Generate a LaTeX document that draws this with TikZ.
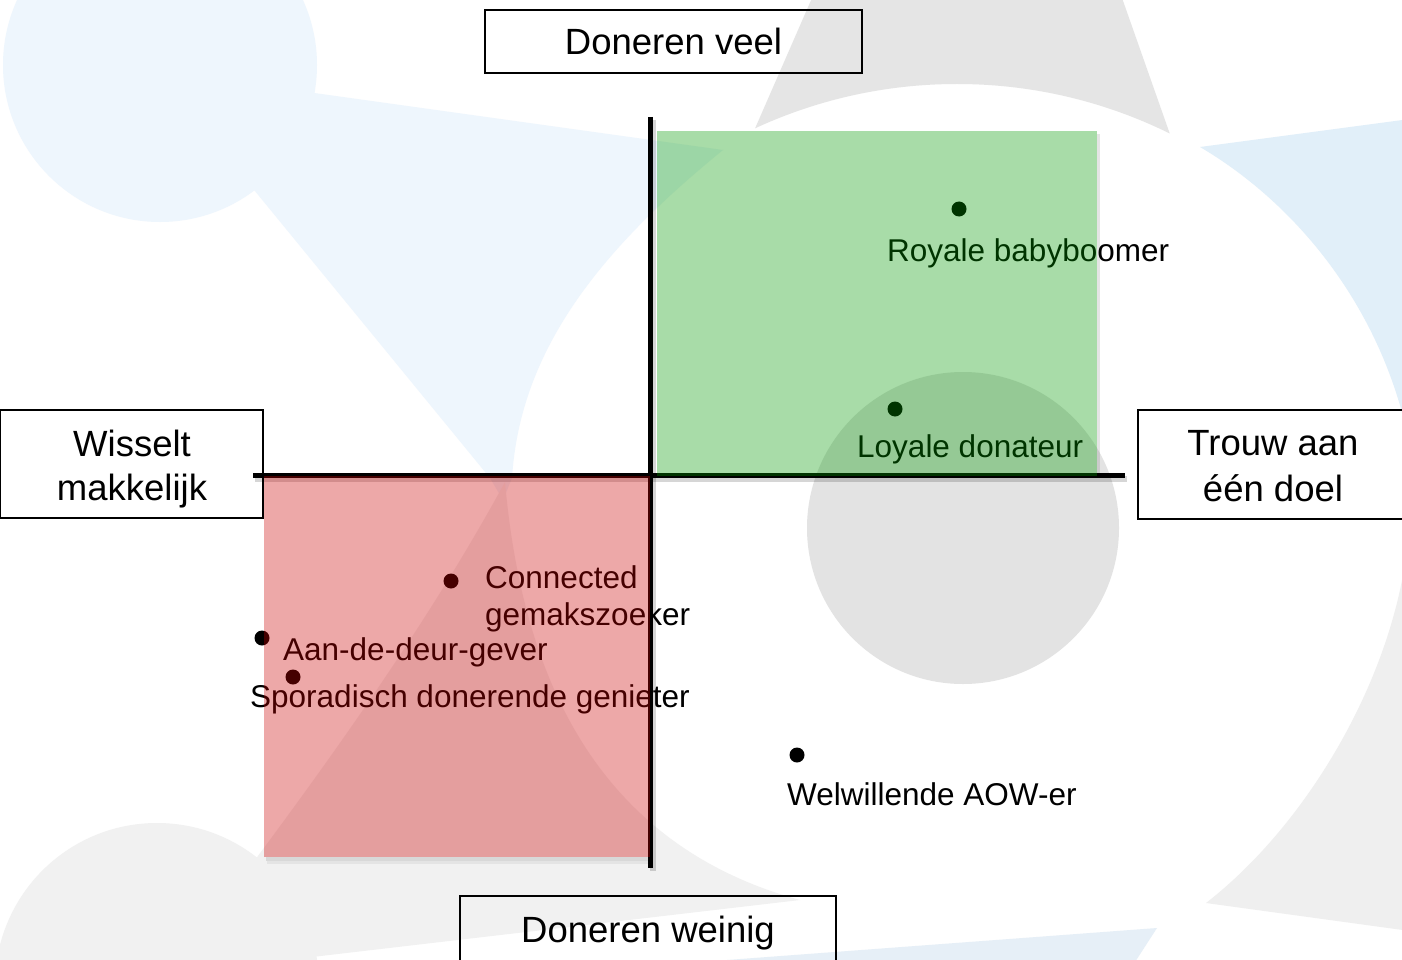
\documentclass[tikz,border=0pt]{standalone}
\usepackage{fontspec}
\setmainfont{Liberation Sans}
\definecolor{bgblueA}{HTML}{EEF6FD}
\definecolor{bgblueB}{HTML}{E1EFF9}
\definecolor{bgblueC}{HTML}{E6EFF7}
\definecolor{bggrayA}{HTML}{E5E5E5}
\definecolor{bggrayB}{HTML}{E3E3E3}
\definecolor{bggrayC}{HTML}{EFEFEF}
\definecolor{bggrayD}{HTML}{F1F1F1}
\definecolor{qgreen}{HTML}{009900}
\definecolor{qred}{HTML}{CC0000}
\begin{document}
\begin{tikzpicture}[x=1pt,y=-1pt,
  framebox/.style={draw=black, line width=1.8pt, inner sep=0pt, outer sep=0pt},
  boxtext/.style={font=\fontsize{36.5}{44}\selectfont, inner sep=0pt, anchor=base},
  labeltext/.style={font=\fontsize{31.5}{38}\selectfont, inner sep=0pt, anchor=base west},
  dotst/.style={circle, fill=black, inner sep=0pt, minimum size=15pt},
  axisline/.style={line width=4.5pt, draw=black},
  axisshadow/.style={line width=6pt, draw=black, opacity=0.16},
  rectshadow/.style={fill=black, opacity=0.10},
  quadrant/.style={fill opacity=0.34}
]
\useasboundingbox (0,0) rectangle (1402,960);
\fill[white] (0,0) rectangle (1402,960);

% ---- faint background ----
\fill[bgblueA] (160,65) circle[radius=157pt];
\fill[bgblueA] (300,91) -- (723,150) .. controls (600,250) and (520,350) .. (512,478) -- (503,500) -- (490,478) -- (250,185) -- cycle;
\begin{scope}
  \clip (812,-2) -- (1122,-2) -- (1172,140) -- (750,140) -- cycle;
  \fill[bggrayA, even odd rule] (700,-5) rectangle (1250,200) (957,565) circle[radius=481pt];
\end{scope}
\fill[bgblueB] (1200,147) .. controls (1290,200) and (1372,295) .. (1404,420) -- (1410,420) -- (1410,119) -- cycle;
\fill[bggrayB] (963,528) circle[radius=156pt];
\fill[bggrayC] (1410,565) -- (1403,575) .. controls (1380,700) and (1300,830) .. (1206,903) -- (1410,931) -- cycle;
\fill[bgblueC] (700,962) -- (1157,928) -- (1135,962) -- cycle;
\fill[bggrayD] (157,985) circle[radius=162pt];
\fill[bggrayD] (505,482) .. controls (520,650) and (580,840) .. (800,900) -- (312,957) -- (240,880) .. controls (330,760) and (430,620) .. (505,482) -- cycle;

% ---- boxes ----
\node[framebox, minimum width=377pt, minimum height=63pt] (veelbox) at (673.5,41.5) {};
\node[boxtext] (veeltxt) at (673.5,55) {Doneren veel};
\node[framebox, minimum width=263pt, minimum height=108pt] (wisbox) at (131.5,464) {};
\node[boxtext] (wis1) at (132,456) {Wisselt};
\node[boxtext] (wis2) at (132,500) {makkelijk};
\node[framebox, minimum width=270pt, minimum height=109pt] (trouwbox) at (1273,464.5) {};
\node[boxtext] (trouw1) at (1273,455) {Trouw aan};
\node[boxtext] (trouw2) at (1273,501) {één doel};
\node[framebox, minimum width=376.5pt, minimum height=66pt] (weinigbox) at (648,929) {};
\node[boxtext] (weinigtxt) at (648,942) {Doneren weinig};

% ---- axes ----
\coordinate (vt) at (650.5,117);
\coordinate (vb) at (650.5,868);
\coordinate (hl) at (253,475.5);
\coordinate (hr) at (1125,475.5);
\draw[axisshadow] ([shift={(2,3)}]vt) -- ([shift={(2,3)}]vb);
\draw[axisshadow] ([shift={(2,3)}]hl) -- ([shift={(2,3)}]hr);
\draw[axisline] (vt) -- (vb);
\draw[axisline] (hl) -- (hr);

% ---- segments ----
\node[dotst] (royale) at (959,209) {};
\node[labeltext] (royalelbl) at (887,261) {Royale babyboomer};
\node[dotst] (loyale) at (895,409) {};
\node[labeltext] (loyalelbl) at (857,457) {Loyale donateur};
\node[dotst] (conn) at (451,581) {};
\node[labeltext] (conn1) at (485,588) {Connected};
\node[labeltext] (conn2) at (485,625) {gemakszoeker};
\node[dotst] (aan) at (262,638) {};
\node[labeltext] (aanlbl) at (283,660) {Aan-de-deur-gever};
\node[dotst] (spor) at (293,677) {};
\node[labeltext] (sporlbl) at (250,707) {Sporadisch donerende genieter};
\node[dotst] (wel) at (797,755) {};
\node[labeltext] (wellbl) at (787,805) {Welwillende AOW-er};

% ---- quadrants ----
\fill[rectshadow] (1097,134) rectangle (1100,475);
\fill[rectshadow] (266,857) rectangle (652,861);
\fill[rectshadow, opacity=0.05] (267,861) rectangle (653,864);
\fill[qgreen, quadrant] (657,131) rectangle (1097,475.5);
\fill[qred, quadrant] (264,476) rectangle (650,857);
\end{tikzpicture}
\end{document}
